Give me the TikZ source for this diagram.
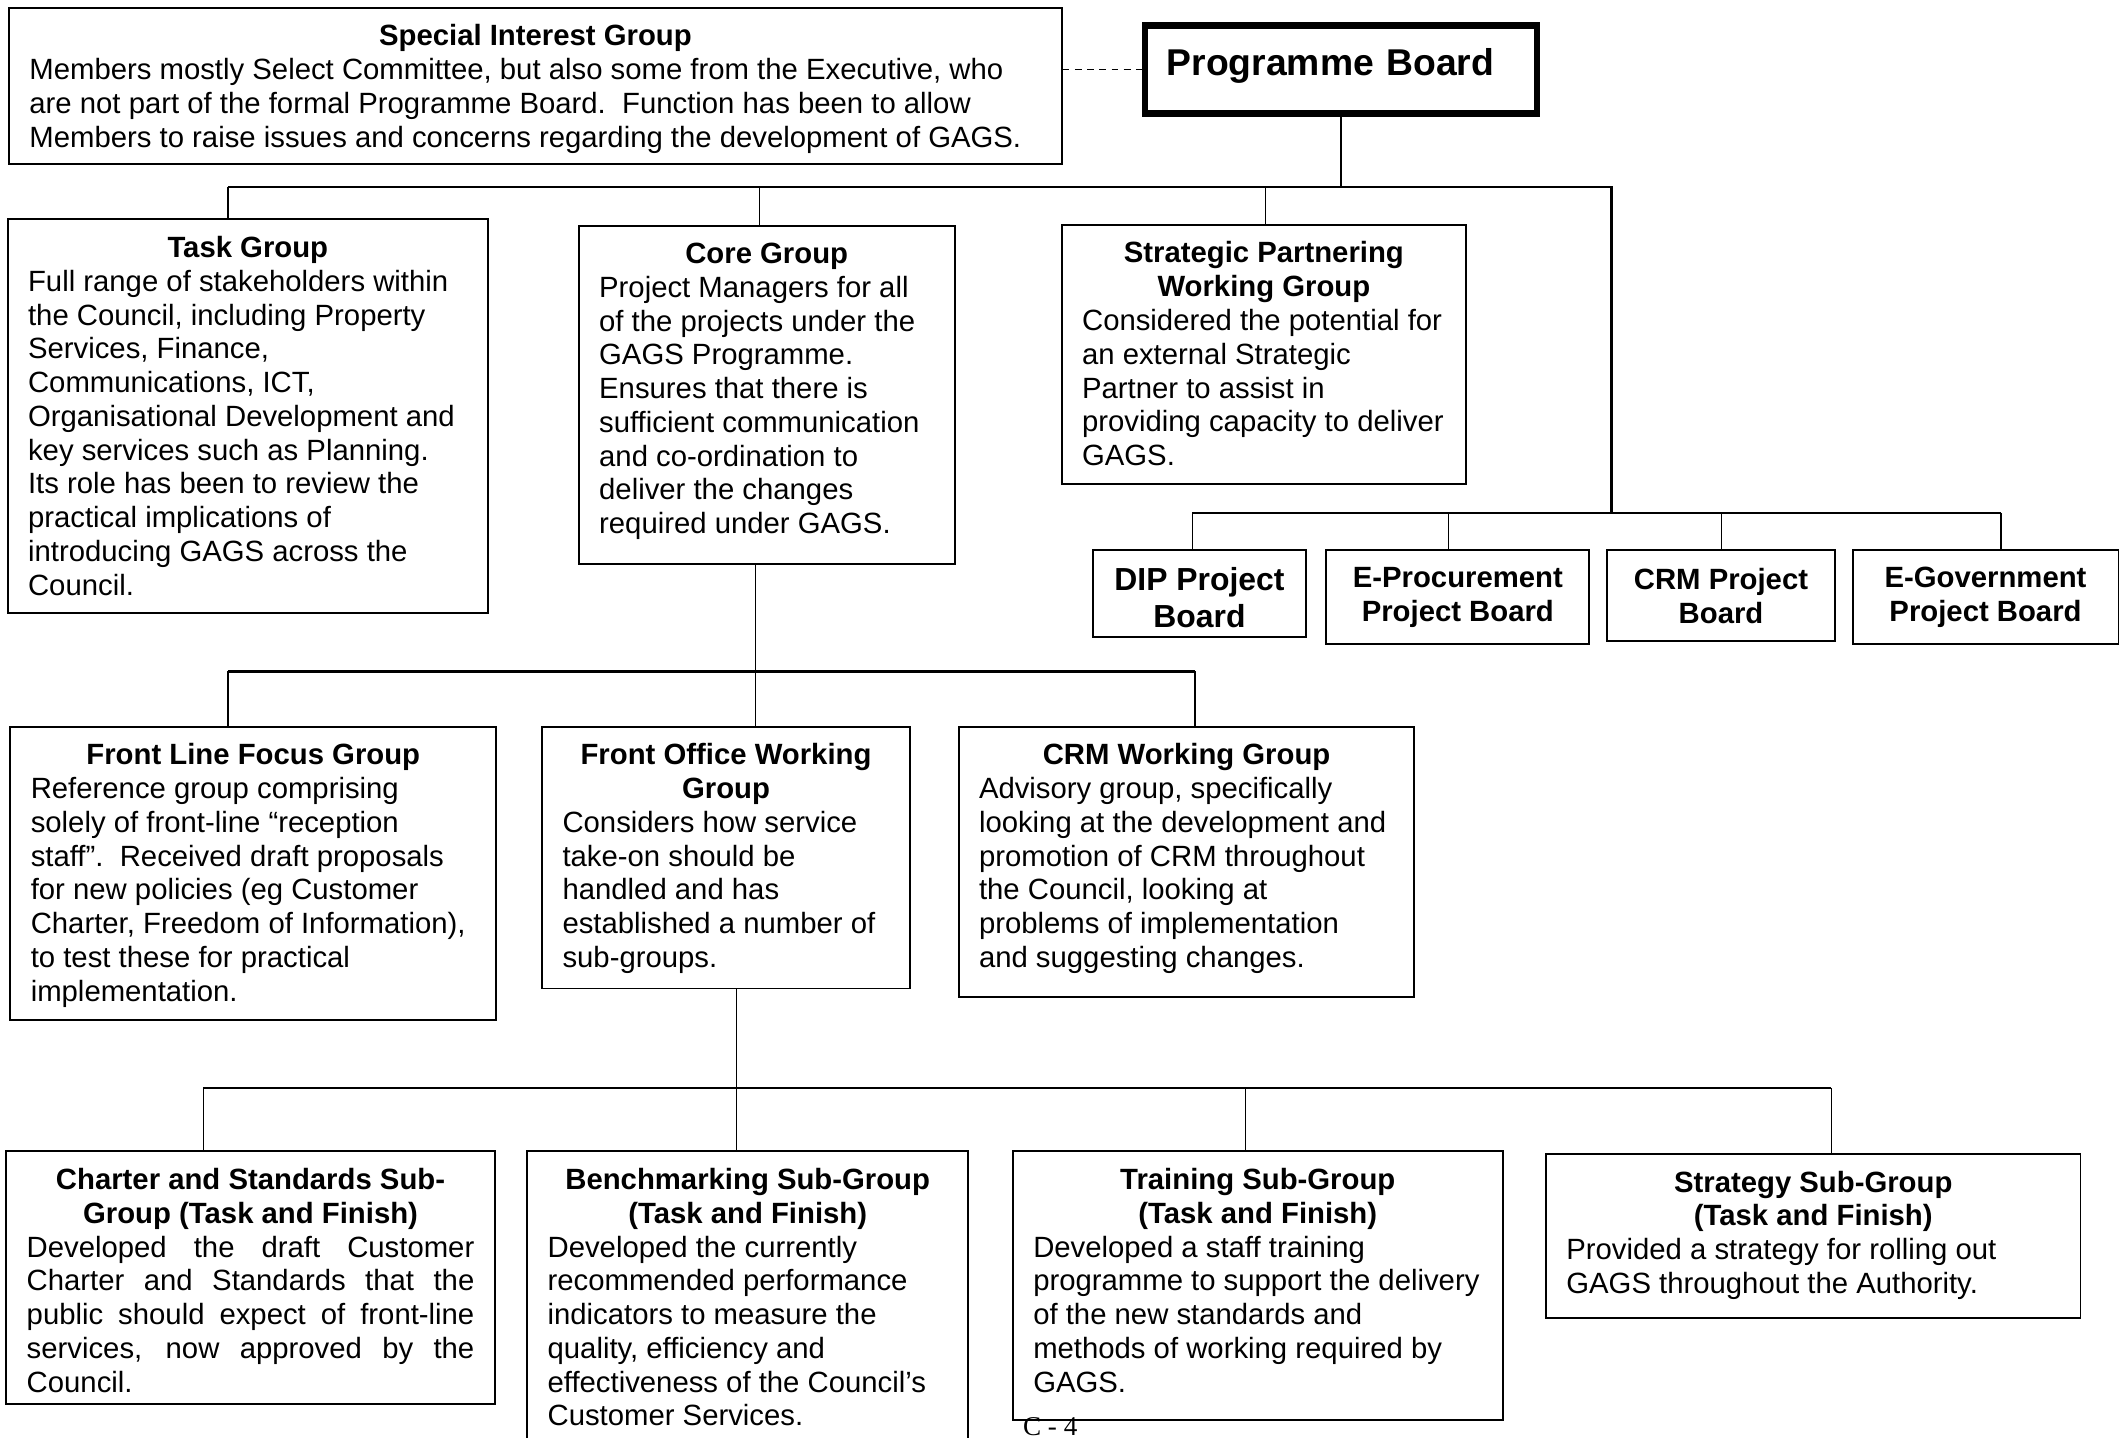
\documentclass[tikz,border=0pt]{standalone}
\usepackage{fontspec}
\setmainfont{Liberation Sans}
\newfontfamily\pagefont{Liberation Serif}
% box text: width, height, title, body
\newcommand{\grpbox}[4]{%
  \parbox[c][#2pt][t]{\dimexpr#1pt-20pt\relax}{\vspace*{12.5pt}%
    {\centering\bfseries #3\par}%
    \leftskip=5pt\rightskip=0pt plus 1fil\relax #4}}
\newcommand{\jline}[1]{\makebox[\dimexpr\linewidth-10pt\relax][s]{#1}\\}
\newcommand{\lowline}[1]{\raisebox{-3pt}[\height][\depth]{#1}}

\begin{document}
\begin{tikzpicture}[x=1pt, y=-1pt,
    grp/.style={draw, line width=1.4pt, anchor=north west, inner xsep=10pt, inner ysep=0pt,
      font=\fontsize{21.6}{24.9}\selectfont},
    pbox/.style={draw, line width=1.4pt, anchor=north west, align=center, inner sep=0pt,
      font=\fontsize{21.6}{25}\selectfont\bfseries},
    link/.style={line width=1pt},
    bus/.style={line width=1.6pt}]
\useasboundingbox (0,0) rectangle (1568,1060);

% top row
\node[grp] (sig) at (6,5) {\grpbox{776}{115}{Special Interest Group}{%
  Members mostly Select Committee, but also some from the Executive, who\\
  are not part of the formal Programme Board.\ \ Function has been to allow\\
  Members to raise issues and concerns regarding the development of GAGS.}};
\node[draw, line width=5pt, anchor=north west, minimum width=289pt, minimum height=65pt,
  inner xsep=16pt, text width=257pt, align=left, text height=20pt, text depth=11pt,
  font=\fontsize{27.5}{30}\selectfont\bfseries] (pb) at (841.6,16.1) {Programme Board};
\draw[link, dash pattern=on 5pt off 4pt] (sig.east |- pb.west) -- (pb.west);

% second row
\node[grp] (task) at (5,161) {\grpbox{354}{290}{Task Group}{%
  Full range of stakeholders within\\
  the Council, including Property\\
  Services, Finance,\\
  Communications, ICT,\\
  Organisational Development and\\
  key services such as Planning.\\
  Its role has been to review the\\
  practical implications of\\
  introducing GAGS across the\\
  Council.}};
\node[grp] (core) at (426,166) {\grpbox{277}{249}{Core Group}{%
  Project Managers for all\\
  of the projects under the\\
  GAGS Programme.\\
  Ensures that there is\\
  sufficient communication\\
  and co-ordination to\\
  deliver the changes\\
  required under GAGS.}};
\node[grp] (strat) at (782,165) {\grpbox{298}{191}{Strategic Partnering\\Working Group}{%
  Considered the potential for\\
  an external Strategic\\
  Partner to assist in\\
  providing capacity to deliver\\
  GAGS.}};

% project boards
\node[pbox, minimum width=157pt, minimum height=64pt, font=\fontsize{23.5}{27}\selectfont\bfseries]
  (dip) at (805,405) {\lowline{DIP Project}\\\lowline{Board}};
\node[pbox, minimum width=194pt, minimum height=69pt] (eproc) at (977,405) {E-Procurement\\Project Board};
\node[pbox, minimum width=168pt, minimum height=67pt] (crmpb) at (1184,405) {CRM Project\\Board};
\node[pbox, minimum width=196pt, minimum height=69pt] (egov) at (1365,405) {E-Government\\Project Board};

% third row
\node[grp] (fl) at (7,535) {\grpbox{358}{216}{Front Line Focus Group}{%
  Reference group comprising\\
  solely of front-line “reception\\
  staff”.\ \ Received draft proposals\\
  for new policies (eg Customer\\
  Charter, Freedom of Information),\\
  to test these for practical\\
  implementation.}};
\node[grp] (fo) at (399,535) {\grpbox{271}{193}{Front Office Working\\Group}{%
  Considers how service\\
  take-on should be\\
  handled and has\\
  established a number of\\
  sub-groups.}};
\node[grp] (crmwg) at (706,535) {\grpbox{336}{199}{CRM Working Group}{%
  Advisory group, specifically\\
  looking at the development and\\
  promotion of CRM throughout\\
  the Council, looking at\\
  problems of implementation\\
  and suggesting changes.}};

% sub-groups
\node[grp] (charter) at (4,848) {\grpbox{360}{186}{Charter and Standards Sub-\\Group (Task and Finish)}{%
  \jline{Developed the draft Customer}
  \jline{Charter and Standards that the}
  \jline{public should expect of front-line}
  \jline{services, now approved by the}
  Council.}};
\node[grp] (bench) at (388,848) {\grpbox{325}{240}{Benchmarking Sub-Group\\(Task and Finish)}{%
  Developed the currently\\
  recommended performance\\
  indicators to measure the\\
  quality, efficiency and\\
  effectiveness of the Council’s\\
  Customer Services.}};
\node[grp] (train) at (746,848) {\grpbox{361}{198}{Training Sub-Group\\(Task and Finish)}{%
  Developed a staff training\\
  programme to support the delivery\\
  of the new standards and\\
  methods of working required by\\
  GAGS.}};
\node[grp] (stratsg) at (1139,850) {\grpbox{394}{121}{Strategy Sub-Group\\(Task and Finish)}{%
  Provided a strategy for rolling out\\
  GAGS throughout the Authority.}};

\node[anchor=base west, inner sep=0pt, font=\pagefont\fontsize{20}{22}\selectfont] (pageno) at (754,1058) {C - 4};

% connectors
\draw[link] (pb.south) -- (pb.south |- 0,138);
\draw[bus] (168,138) -- (1188,138) -- (1188,378);
\foreach \n/\x in {task/168,core/560,strat/933}
  \draw[link] (\x,138) -- (\n.north -| \x,0);
\draw[bus] (879,378) -- (1475,378);
\foreach \n/\x in {dip/879,eproc/1068,crmpb/1269,egov/1475}
  \draw[link] (\x,378) -- (\n.north -| \x,0);
\draw[link] (core.south -| 557,0) -- (fo.north -| 557,0);
\draw[bus] (168,495) -- (881,495);
\foreach \n/\x in {fl/168,crmwg/881}
  \draw[link] (\x,495) -- (\n.north -| \x,0);
\draw[link] (fo.south -| 543,0) -- (543,802);
\draw[bus] (150,802) -- (1350,802);
\foreach \n/\x in {charter/150,bench/543,train/918,stratsg/1350}
  \draw[link] (\x,802) -- (\n.north -| \x,0);
\end{tikzpicture}
\end{document}
